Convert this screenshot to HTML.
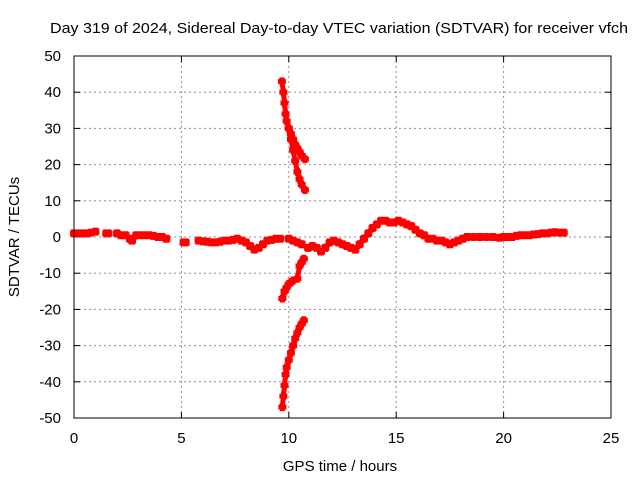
<!DOCTYPE html>
<html><head><meta charset="utf-8"><style>
body{margin:0;background:#fff}
svg{display:block;font-family:"Liberation Sans",sans-serif}
</style></head><body>
<svg id="c" width="640" height="480">
<text x="339" y="33" font-size="15" text-anchor="middle" textLength="578" lengthAdjust="spacingAndGlyphs">Day 319 of 2024, Sidereal Day-to-day VTEC variation (SDTVAR) for receiver vfch</text>
<text x="340" y="471" font-size="15" text-anchor="middle">GPS time / hours</text>
<text x="19" y="237" font-size="15" text-anchor="middle" transform="rotate(-90 19 237)">SDTVAR / TECUs</text>
<g id="grid"></g><g id="marks"></g>
<rect x="74" y="56" width="537" height="362" fill="none" stroke="#000" stroke-width="1"/>
</svg>
<script>
const xTicks=[0,5,10,15,20,25];
const yTicks=[-50,-40,-30,-20,-10,0,10,20,30,40,50];
const baseT=[0,0.2,0.4,0.6,0.8,1.0,1.5,1.6,2.0,2.2,2.4,2.6,2.7,2.9,3.1,3.3,3.5,3.7,3.9,4.1,4.3,5.1,5.2,5.8,6.0,6.2,6.4,6.6,6.8,7.0,7.2,7.4,7.6,7.8,8.0,8.2,8.4,8.6,8.8,9.0,9.2,9.4,9.6,10.0,10.2,10.4,10.6,10.9,11.1,11.3,11.5,11.7,11.9,12.1,12.3,12.5,12.7,12.9,13.1,13.3,13.5,13.7,13.9,14.1,14.3,14.5,14.7,14.9,15.1,15.3,15.5,15.7,15.9,16.1,16.3,16.5,16.7,16.9,17.1,17.3,17.5,17.7,17.9,18.1,18.3,18.6,18.9,19.2,19.5,19.8,20.0,20.2,20.4,20.6,20.8,21.0,21.2,21.4,21.6,21.8,22.0,22.2,22.4,22.6,22.8];
const baseV=[1,1,1,1,1.2,1.5,1,1,1,0.5,0.5,-0.5,-1,0.5,0.5,0.5,0.5,0.3,0,0,-0.5,-1.5,-1.5,-1,-1.2,-1.3,-1.5,-1.5,-1.3,-1,-1,-0.8,-0.5,-1,-1.5,-2.5,-3.5,-3,-2,-1,-0.8,-0.5,-0.5,-0.5,-1,-1.5,-2,-3,-2.5,-3,-4,-3,-1.5,-1,-1.5,-2,-2.5,-3,-3.5,-2,-0.5,1,2.5,3.5,4.5,4.5,4,4,4.5,4,3.5,3,2,1,0.5,-0.5,-0.5,-1,-1,-1.5,-2,-1.5,-1,-0.5,0,0,0,0,0,-0.2,0,0,0,0.3,0.5,0.5,0.5,0.7,0.8,1,1,1.2,1.3,1.2,1.2];
const spikeAT=[9.68,9.75,9.8,9.85,9.9,10.0,10.1,10.2,10.3,10.4,10.5,10.6,10.75];
const spikeAV=[43,40,37,34,32,30,28.5,27,25.5,24.5,23.5,22.5,21.5];
const spikeBT=[10.0,10.1,10.2,10.3,10.4,10.5,10.6,10.75];
const spikeBV=[30,27,24,21,18,16,14.5,13];
const spikeCT=[9.7,9.75,9.8,9.85,9.9,10.0,10.1,10.2,10.3,10.4,10.5,10.6,10.7];
const spikeCV=[-47,-44,-41,-38,-36,-34,-32,-30,-28,-26.5,-25,-24,-23];
const spikeDT=[9.7,9.8,9.9,10.0,10.1,10.2,10.4,10.5,10.6,10.7];
const spikeDV=[-17,-15,-14,-13,-12.5,-12,-11.5,-8,-7,-6];
const X=t=>74+t*(537/25), Y=v=>237-v*3.62;
const NS='http://www.w3.org/2000/svg';
const g=document.getElementById('grid'), m=document.getElementById('marks');
function el(tag,a,p){const e=document.createElementNS(NS,tag);for(const k in a)e.setAttribute(k,a[k]);p.appendChild(e);return e;}
xTicks.forEach(t=>{
 if(t>0&&t<25){const l=el('line',{x1:X(t),x2:X(t),y1:56,y2:418,stroke:'#909090','stroke-dasharray':'2,3'},g);
 
 }
 el('line',{x1:X(t),x2:X(t),y1:418,y2:412,stroke:'#000'},g);
 el('line',{x1:X(t),x2:X(t),y1:56,y2:62,stroke:'#000'},g);
 const tx=el('text',{x:X(t),y:443,'font-size':15,'text-anchor':'middle'},g);tx.textContent=t;
 
 
});
yTicks.forEach(v=>{
 if(v>-50&&v<50){const l=el('line',{x1:74,x2:611,y1:Y(v),y2:Y(v),stroke:'#909090','stroke-dasharray':'2,3'},g);
 
 }
 el('line',{x1:74,x2:80,y1:Y(v),y2:Y(v),stroke:'#000'},g);
 el('line',{x1:611,x2:605,y1:Y(v),y2:Y(v),stroke:'#000'},g);
 const tx=el('text',{x:61,y:Y(v)+5,'font-size':15,'text-anchor':'end'},g);tx.textContent=v;
 
 
});
function series(T,V,name,w){
 let d='';
 for(let i=0;i<T.length;i++){
  const x=X(T[i]),y=Y(V[i]);
  d+=`M${x-4},${y}h8M${x},${y-4}v8`;
  if(i>0&&T[i]-T[i-1]<0.3)d+=`M${X(T[i-1])},${Y(V[i-1])}L${x},${y}`;
 }
 const p=el('path',{d:d,stroke:'#ff0000','stroke-width':w,fill:'none'},m);
 
 
}
series(baseT,baseV,'sdtvar-baseline-points',6);
series(spikeAT,spikeAV,'sdtvar-upper-spike-a',5);
series(spikeBT,spikeBV,'sdtvar-upper-spike-b',5);
series(spikeCT,spikeCV,'sdtvar-lower-spike',5);
series(spikeDT,spikeDV,'sdtvar-mid-lower-spike',5);
</script>
</body></html>
